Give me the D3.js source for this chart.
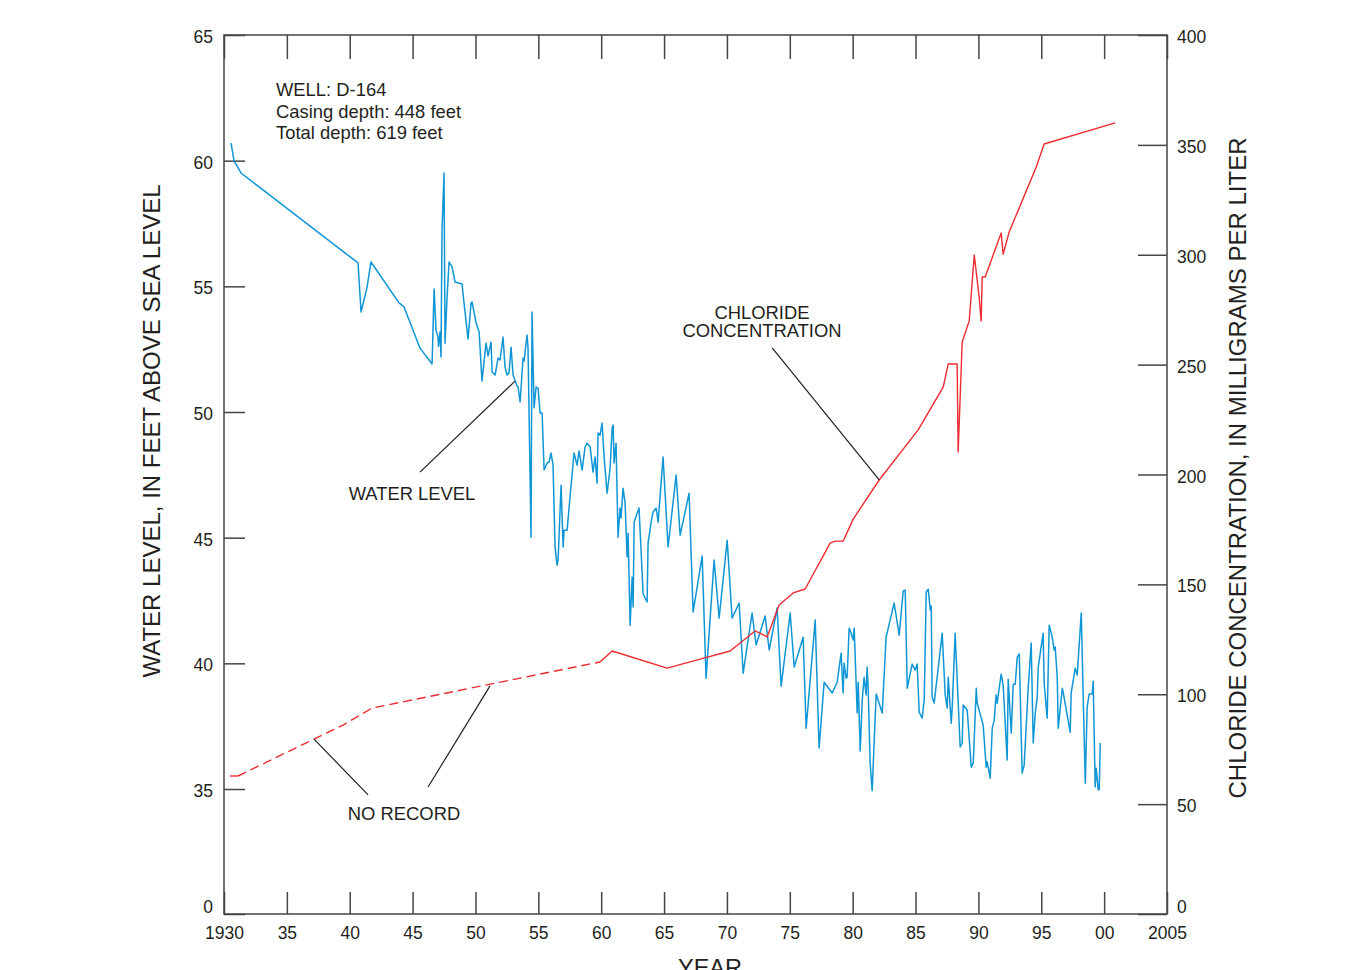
<!DOCTYPE html>
<html>
<head>
<meta charset="utf-8">
<script src="https://cdn.jsdelivr.net/npm/d3@7"></script>
<style>
  body { margin: 0; background: #fff; }
  text { font-family: "Liberation Sans", Arial, Helvetica, sans-serif; fill: #231f20; }
</style>
</head>
<body>
<div id="chart"></div>
<script>
// ---------------------------------------
// data read off the hydrograph for well D-164

// tick values
const yearTicks = [1930, 1935, 1940, 1945, 1950, 1955, 1960, 1965, 1970, 1975, 1980, 1985, 1990, 1995, 2000, 2005];
const yearLabels = ["1930", "35", "40", "45", "50", "55", "60", "65", "70", "75", "80", "85", "90", "95", "00", "2005"];
const levelTicks = [0, 35, 40, 45, 50, 55, 60, 65];
const chlorideTicks = [0, 50, 100, 150, 200, 250, 300, 350, 400];

// water level, feet above sea level: [year, level]
const waterLevel = [
  [1930.56, 60.70], [1930.80, 59.99], [1931.35, 59.51], [1940.66, 55.93], [1940.90, 53.98], [1941.38, 54.97],
  [1941.69, 55.97], [1943.92, 54.34], [1944.32, 54.18], [1945.59, 52.54], [1946.55, 51.91], [1946.71, 54.89],
  [1946.86, 53.26], [1947.02, 52.98], [1947.06, 52.62], [1947.18, 53.18], [1947.26, 52.19], [1947.34, 57.24],
  [1947.50, 59.51], [1947.58, 52.74], [1947.74, 54.57], [1947.90, 55.97], [1948.14, 55.77], [1948.38, 55.17],
  [1948.93, 55.09], [1949.09, 54.34], [1949.41, 52.90], [1949.65, 54.34], [1949.73, 54.38], [1950.05, 53.54],
  [1950.29, 53.18], [1950.52, 51.23], [1950.84, 52.74], [1951.00, 52.23], [1951.24, 52.78], [1951.32, 51.59],
  [1951.56, 51.47], [1951.80, 52.15], [1951.96, 52.07], [1952.19, 52.98], [1952.35, 51.79], [1952.51, 51.47],
  [1952.67, 51.55], [1952.83, 52.58], [1952.99, 51.47], [1953.31, 51.03], [1953.39, 50.99], [1953.55, 50.40],
  [1953.71, 51.59], [1953.79, 52.15], [1953.87, 52.03], [1954.10, 53.06], [1954.18, 52.58], [1954.42, 45.02],
  [1954.50, 53.98], [1954.66, 50.16], [1954.82, 50.99], [1954.98, 50.95], [1955.14, 49.96], [1955.30, 49.96],
  [1955.46, 47.69], [1955.70, 47.97], [1955.85, 48.01], [1956.01, 48.37], [1956.17, 47.89], [1956.33, 44.63],
  [1956.49, 43.91], [1956.57, 44.11], [1956.81, 47.09], [1956.97, 44.63], [1957.05, 45.30], [1957.29, 45.30],
  [1957.52, 46.62], [1957.84, 48.37], [1958.08, 47.89], [1958.24, 48.45], [1958.48, 47.69], [1958.72, 48.61],
  [1958.88, 48.76], [1959.12, 48.61], [1959.35, 47.61], [1959.51, 48.21], [1959.67, 47.17], [1959.75, 49.16],
  [1959.91, 49.08], [1960.07, 49.56], [1960.23, 48.21], [1960.47, 46.77], [1960.71, 47.77], [1960.87, 49.36],
  [1960.95, 49.48], [1961.02, 47.97], [1961.18, 48.76], [1961.34, 45.02], [1961.50, 46.18], [1961.58, 45.78],
  [1961.74, 46.97], [1961.90, 46.38], [1962.06, 44.23], [1962.14, 45.18], [1962.30, 41.52], [1962.46, 43.43],
  [1962.54, 42.24], [1962.62, 45.62], [1962.86, 45.98], [1963.01, 46.18], [1963.33, 42.80], [1963.41, 42.68],
  [1963.65, 42.44], [1963.73, 44.79], [1963.97, 45.62], [1964.13, 46.02], [1964.37, 46.18], [1964.53, 45.62],
  [1964.92, 48.21], [1965.32, 44.63], [1965.96, 47.49], [1966.28, 45.10], [1966.99, 46.77], [1967.31, 42.04],
  [1968.03, 44.27], [1968.34, 39.41], [1968.98, 44.11], [1969.38, 41.80], [1970.02, 44.90], [1970.41, 41.80],
  [1970.97, 42.40], [1971.29, 39.61], [1972.00, 42.00], [1972.32, 40.73], [1973.04, 41.88], [1973.36, 40.53],
  [1973.99, 42.20], [1974.31, 39.09], [1975.03, 42.00], [1975.35, 39.85], [1976.06, 41.04], [1976.30, 37.42],
  [1977.02, 41.72], [1977.33, 36.63], [1977.73, 39.25], [1978.37, 38.82], [1978.77, 39.25], [1979.08, 40.41],
  [1979.24, 38.82], [1979.32, 40.01], [1979.48, 39.41], [1979.56, 39.45], [1979.72, 41.40], [1979.88, 41.20],
  [1980.04, 40.93], [1980.12, 41.40], [1980.36, 38.02], [1980.44, 39.25], [1980.60, 36.51], [1980.76, 38.54],
  [1980.91, 39.45], [1981.07, 38.74], [1981.15, 39.85], [1981.23, 39.06], [1981.39, 36.03], [1981.55, 34.52],
  [1981.87, 38.78], [1982.35, 38.02], [1982.66, 41.04], [1983.30, 42.40], [1983.70, 41.12], [1984.02, 42.88],
  [1984.18, 42.91], [1984.34, 39.01], [1984.73, 39.97], [1984.97, 39.73], [1985.13, 39.97], [1985.29, 38.06],
  [1985.53, 37.82], [1985.69, 38.54], [1985.85, 42.84], [1986.01, 42.95], [1986.17, 42.12], [1986.25, 42.28],
  [1986.32, 38.66], [1986.48, 38.42], [1986.72, 39.45], [1987.12, 41.20], [1987.36, 38.74], [1987.52, 38.22],
  [1987.60, 39.45], [1987.84, 37.62], [1987.92, 38.26], [1988.15, 41.20], [1988.55, 36.67], [1988.71, 36.83],
  [1988.79, 38.34], [1989.11, 38.14], [1989.43, 35.87], [1989.59, 36.03], [1989.83, 39.01], [1989.90, 38.42],
  [1990.38, 37.54], [1990.62, 35.87], [1990.70, 36.07], [1990.94, 35.43], [1991.10, 37.42], [1991.26, 37.74],
  [1991.41, 38.74], [1991.49, 38.42], [1991.81, 39.57], [1991.97, 39.13], [1992.29, 36.15], [1992.37, 39.37],
  [1992.61, 37.22], [1992.77, 39.17], [1992.93, 39.17], [1993.09, 40.25], [1993.25, 40.37], [1993.48, 35.63],
  [1993.64, 35.95], [1993.96, 39.01], [1994.20, 40.81], [1994.36, 36.83], [1994.52, 38.02], [1994.68, 38.66],
  [1994.76, 39.85], [1995.15, 41.20], [1995.23, 39.21], [1995.47, 37.82], [1995.63, 41.52], [1995.87, 41.04],
  [1996.03, 40.53], [1996.11, 40.65], [1996.27, 39.45], [1996.35, 37.42], [1996.67, 39.01], [1996.75, 38.82],
  [1997.30, 37.26], [1997.38, 38.82], [1997.70, 39.81], [1997.86, 39.53], [1998.18, 42.00], [1998.50, 35.23],
  [1998.65, 38.26], [1998.81, 38.78], [1999.05, 38.78], [1999.13, 39.29], [1999.29, 35.08], [1999.37, 35.83],
  [1999.53, 34.76], [1999.61, 34.84], [1999.69, 36.83]
];

// chloride, mg/L: [year, concentration]
const chlorideEarly = [[1930.48, 62.8], [1931.11, 62.8]];
const chlorideNoRecord = [[1931.11, 62.8], [1939.47, 86.0], [1941.77, 93.7], [1959.91, 114.7]];
const chloride = [
  [1959.91, 114.7], [1960.87, 119.7], [1965.24, 111.9], [1967.87, 116.0], [1970.25, 119.7], [1972.24, 128.8],
  [1973.20, 126.1], [1974.15, 140.6], [1975.27, 146.1], [1976.22, 147.9], [1978.21, 168.8], [1978.61, 169.7],
  [1979.25, 169.7], [1980.04, 179.7], [1982.11, 197.5], [1985.21, 220.3], [1987.20, 239.8], [1987.60, 250.3],
  [1988.31, 250.3], [1988.39, 210.2], [1988.71, 260.3], [1989.27, 269.9], [1989.67, 299.9], [1990.06, 280.8],
  [1990.22, 269.9], [1990.30, 289.9], [1990.54, 289.9], [1991.81, 309.9], [1991.97, 300.3], [1992.45, 310.4],
  [1994.60, 339.9], [1995.23, 350.4], [2000.88, 360.0]
];

// ---------------------------------------
// svg params
const width = 1350;
const height = 970;
const plot = {left: 224, right: 1167, top: 35, bottom: 914};
const ink = "#231f20";
const axisInk = "#444";

const svg = d3.select("#chart")
    .append("svg")
    .attr("width", width)
    .attr("height", height);

// scales: left axis is broken between 0 and 35
const x = d3.scaleLinear()
    .domain([1930, 2005])
    .range([plot.left, plot.right]);
const yLevel = d3.scaleLinear()
    .domain([0, 35, 65])
    .range([plot.bottom, 789, plot.top]);
const yCl = d3.scaleLinear()
    .domain([0, 400])
    .range([plot.bottom, plot.top]);

function styleAxis(g) {
  g.attr("font-family", null).attr("font-size", null);
  g.select(".domain").remove();
  g.selectAll(".tick line").attr("stroke", axisInk).attr("stroke-width", 1.5);
  g.selectAll(".tick text").style("font-size", "17.5px").attr("fill", ink);
}

// ---------------------------------------
// axes
svg.append("g")
    .attr("transform", `translate(${plot.left},0)`)
    .call(d3.axisLeft(yLevel).tickValues(levelTicks).tickSizeInner(-21).tickSizeOuter(0).tickPadding(11))
    .call(styleAxis)
    .selectAll(".tick text")
    .attr("y", (d) => d === 0 ? -7 : 2);

svg.append("g")
    .attr("transform", `translate(${plot.right},0)`)
    .call(d3.axisRight(yCl).tickValues(chlorideTicks).tickSizeInner(-29).tickSizeOuter(0).tickPadding(10))
    .call(styleAxis)
    .selectAll(".tick text")
    .attr("y", (d) => d === 0 ? -7 : 2);

svg.append("g")
    .attr("transform", `translate(0,${plot.bottom})`)
    .call(d3.axisBottom(x).tickValues(yearTicks).tickFormat((d, i) => yearLabels[i])
        .tickSizeInner(-22).tickSizeOuter(0).tickPadding(13))
    .call(styleAxis);

svg.append("g")
    .attr("transform", `translate(0,${plot.top})`)
    .call(d3.axisTop(x).tickValues(yearTicks).tickFormat("").tickSizeInner(-24).tickSizeOuter(0))
    .call(styleAxis);

// frame
svg.append("rect")
    .attr("x", plot.left)
    .attr("y", plot.top)
    .attr("width", plot.right - plot.left)
    .attr("height", plot.bottom - plot.top)
    .attr("fill", "none")
    .attr("stroke", axisInk)
    .attr("stroke-width", 1.5);

// axis titles
svg.append("text")
    .attr("transform", "translate(160,431) rotate(-90)")
    .attr("text-anchor", "middle")
    .style("font-size", "24px")
    .text("WATER LEVEL, IN FEET ABOVE SEA LEVEL");

svg.append("text")
    .attr("transform", "translate(1246,468) rotate(-90)")
    .attr("text-anchor", "middle")
    .style("font-size", "24px")
    .text("CHLORIDE CONCENTRATION, IN MILLIGRAMS PER LITER");

svg.append("text")
    .attr("x", 710)
    .attr("y", 976)
    .attr("text-anchor", "middle")
    .style("font-size", "23.5px")
    .text("YEAR");

// ---------------------------------------
// lines
const levelLine = d3.line()
    .x((d) => x(d[0]))
    .y((d) => yLevel(d[1]));
const clLine = d3.line()
    .x((d) => x(d[0]))
    .y((d) => yCl(d[1]));

svg.append("path")
    .datum(waterLevel)
    .attr("d", levelLine)
    .attr("fill", "none")
    .attr("stroke", "#0f96d6")
    .attr("stroke-width", 1.5)
    .attr("stroke-linejoin", "round");

svg.append("path")
    .datum(chlorideNoRecord)
    .attr("d", clLine)
    .attr("fill", "none")
    .attr("stroke", "#ee2b30")
    .attr("stroke-width", 1.4)
    .attr("stroke-dasharray", "9,5");

[chlorideEarly, chloride].forEach(function(seg) {
  svg.append("path")
      .datum(seg)
      .attr("d", clLine)
      .attr("fill", "none")
      .attr("stroke", "#ee2b30")
      .attr("stroke-width", 1.4)
      .attr("stroke-linejoin", "round");
});

// ---------------------------------------
// annotations
const note = svg.append("text")
    .attr("x", 276)
    .attr("y", 96)
    .style("font-size", "18.4px");
["WELL: D-164", "Casing depth: 448 feet", "Total depth: 619 feet"].forEach(function(t, i) {
  note.append("tspan").attr("x", 276).attr("dy", i === 0 ? 0 : 21.5).text(t);
});

svg.append("text")
    .attr("x", 412)
    .attr("y", 500)
    .attr("text-anchor", "middle")
    .style("font-size", "18.4px")
    .text("WATER LEVEL");

const clLabel = svg.append("text")
    .attr("text-anchor", "middle")
    .style("font-size", "18.4px");
clLabel.append("tspan").attr("x", 762).attr("y", 319).text("CHLORIDE");
clLabel.append("tspan").attr("x", 762).attr("y", 337).text("CONCENTRATION");

svg.append("text")
    .attr("x", 404)
    .attr("y", 820)
    .attr("text-anchor", "middle")
    .style("font-size", "18.4px")
    .text("NO RECORD");

// leader lines, in data units
const leaders = [
  {y: yLevel, from: [1945.59, 47.61], to: [1953.15, 51.23]},
  {y: yCl, from: [1973.60, 257.6], to: [1982.11, 197.5]},
  {y: yCl, from: [1941.46, 54.2], to: [1937.16, 79.6]},
  {y: yCl, from: [1946.23, 57.8], to: [1951.16, 103.8]}
];
leaders.forEach(function(d) {
  svg.append("line")
      .attr("x1", x(d.from[0]))
      .attr("y1", d.y(d.from[1]))
      .attr("x2", x(d.to[0]))
      .attr("y2", d.y(d.to[1]))
      .attr("stroke", ink)
      .attr("stroke-width", 1.2);
});
</script>
</body>
</html>
